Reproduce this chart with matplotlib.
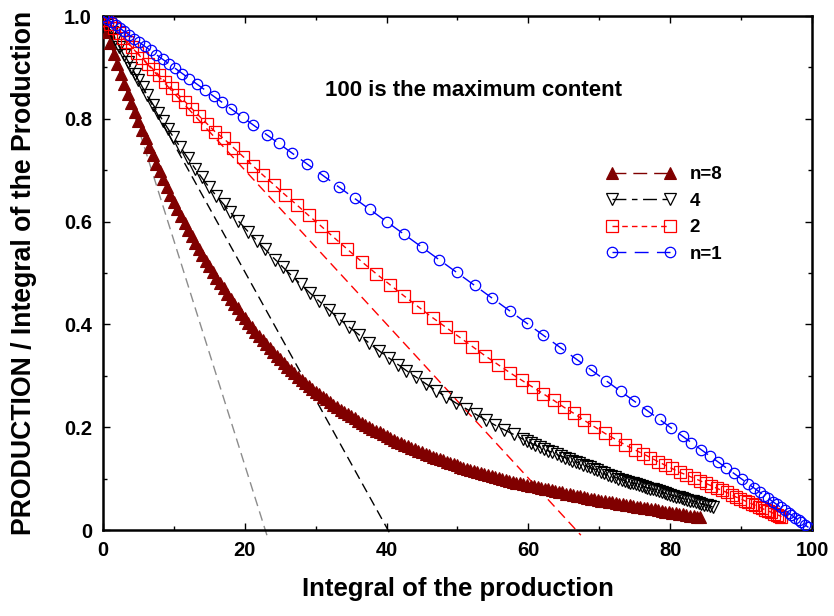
import matplotlib
matplotlib.use("Agg")
import matplotlib.pyplot as plt
from matplotlib.ticker import MultipleLocator, FixedLocator, FixedFormatter

plt.rcParams['font.family'] = ['Liberation Sans', 'DejaVu Sans']
plt.rcParams['font.weight'] = 'bold'

# n=1 (blue circles)
x_n1 = [0, 0.6, 1.2, 1.8, 2.4, 3.0, 3.7, 4.4, 5.1, 5.9, 6.7, 7.5, 8.4, 9.3, 10.2, 11.2,
        12.2, 13.3, 14.4, 15.6, 16.8, 18.1, 19.7, 21.2, 23.1, 24.8, 26.6, 28.8, 31.1, 33.3,
        35.5, 37.6, 40.0, 42.5, 45.0, 47.4, 49.9, 52.4, 54.9, 57.4, 59.8, 62.1, 64.5, 66.8,
        68.9, 71.0, 73.0, 74.9, 76.8, 78.5, 80.1, 81.8, 83.0, 84.4, 85.6, 86.8, 87.9, 89.0,
        90.1, 91.0, 91.8, 92.6, 93.3, 93.8, 94.5, 95.0, 95.6, 96.2, 96.7, 97.1, 97.6, 98.1,
        98.5, 99.0, 99.5]
y_n1 = [1.0, 0.994, 0.988, 0.982, 0.976, 0.970, 0.963, 0.956, 0.949, 0.941, 0.933, 0.925,
        0.916, 0.907, 0.898, 0.888, 0.878, 0.867, 0.856, 0.844, 0.832, 0.819, 0.803, 0.788,
        0.769, 0.752, 0.734, 0.712, 0.689, 0.667, 0.645, 0.624, 0.600, 0.575, 0.550, 0.526,
        0.501, 0.476, 0.451, 0.426, 0.402, 0.379, 0.355, 0.332, 0.311, 0.290, 0.270, 0.251,
        0.232, 0.215, 0.199, 0.182, 0.170, 0.156, 0.144, 0.132, 0.121, 0.110, 0.099, 0.090,
        0.082, 0.074, 0.067, 0.062, 0.055, 0.050, 0.044, 0.038, 0.033, 0.029, 0.024, 0.019,
        0.015, 0.010, 0.005]

# n=2 (red squares)
x_n2 = [0, 0.5, 1.0, 1.6, 2.2, 2.8, 3.4, 4.1, 4.8, 5.5, 6.3, 7.1, 7.9, 8.8, 9.7, 10.6,
        11.6, 12.6, 13.6, 14.7, 15.8, 17.0, 18.4, 19.8, 21.2, 22.6, 24.1, 25.7, 27.3, 29.0,
        30.7, 32.5, 34.4, 36.5, 38.5, 40.5, 42.5, 44.5, 46.5, 48.4, 50.3, 52.1, 53.9, 55.7,
        57.4, 59.1, 60.6, 62.1, 63.6, 65.0, 66.4, 67.8, 69.3, 70.8, 72.2, 73.6, 75.0, 76.2,
        77.2, 78.3, 79.3, 80.2, 81.4, 82.3, 83.3, 84.2, 85.0, 85.8, 86.6, 87.3, 88.0, 88.7,
        89.3, 89.9, 90.5, 91.0, 91.5, 92.0, 92.5, 93.0, 93.4, 93.8, 94.2, 94.6, 95.0, 95.4,
        95.7]
y_n2 = [1.0, 0.993, 0.985, 0.976, 0.967, 0.958, 0.950, 0.939, 0.929, 0.919, 0.907, 0.896,
        0.885, 0.872, 0.859, 0.847, 0.833, 0.819, 0.805, 0.790, 0.775, 0.762, 0.744, 0.726,
        0.708, 0.690, 0.672, 0.652, 0.633, 0.612, 0.592, 0.570, 0.547, 0.522, 0.499, 0.477,
        0.455, 0.434, 0.413, 0.394, 0.375, 0.357, 0.339, 0.322, 0.306, 0.291, 0.278, 0.265,
        0.252, 0.239, 0.227, 0.214, 0.201, 0.188, 0.177, 0.166, 0.156, 0.148, 0.141, 0.133,
        0.126, 0.120, 0.112, 0.107, 0.101, 0.096, 0.091, 0.086, 0.081, 0.077, 0.073, 0.068,
        0.064, 0.061, 0.057, 0.054, 0.051, 0.048, 0.045, 0.042, 0.039, 0.037, 0.035, 0.032,
        0.030, 0.028, 0.026]

# n=4 (black open triangles)
x_n4 = [0, 0.6, 1.2, 1.7, 2.3, 2.9, 3.5, 4.0, 4.5, 5.0, 5.6, 6.2, 7.1, 7.8, 8.5, 9.2, 9.9,
        10.9, 12.0, 13.0, 13.9, 14.9, 16.0, 17.0, 17.9, 19.1, 20.5, 21.7, 22.8, 24.3, 25.4,
        26.6, 27.9, 29.2, 30.5, 31.9, 33.3, 34.7, 36.1, 37.5, 38.9, 40.3, 41.6, 42.8, 44.2,
        45.6, 47.0, 48.4, 49.8, 51.2, 52.6, 54.0, 55.3, 56.6, 57.9, 59.2, 59.8, 60.4, 61.0,
        61.6, 62.2, 62.8, 63.4, 64.0, 64.6, 65.2, 65.7, 66.2, 66.7, 67.2, 67.7, 68.2, 68.7,
        69.2, 69.7, 70.2, 70.7, 71.2, 71.7, 72.2, 72.7, 73.2, 73.6, 74.0, 74.4, 74.8, 75.2,
        75.6, 76.0, 76.4, 76.8, 77.2, 77.6, 78.0, 78.4, 78.8, 79.2, 79.6, 80.0, 80.4, 80.8,
        81.2, 81.6, 82.0, 82.4, 82.8, 83.2, 83.6, 84.0, 84.4, 84.8, 85.2, 85.6, 86.0]
y_n4 = [0.995, 0.982, 0.968, 0.955, 0.940, 0.925, 0.911, 0.899, 0.887, 0.875, 0.861, 0.847,
        0.827, 0.811, 0.795, 0.780, 0.765, 0.745, 0.723, 0.703, 0.686, 0.668, 0.650, 0.634,
        0.619, 0.601, 0.580, 0.563, 0.547, 0.526, 0.511, 0.495, 0.478, 0.461, 0.445, 0.428,
        0.411, 0.395, 0.380, 0.364, 0.349, 0.335, 0.322, 0.310, 0.297, 0.284, 0.271, 0.259,
        0.247, 0.236, 0.225, 0.214, 0.204, 0.195, 0.186, 0.177, 0.173, 0.169, 0.165, 0.161,
        0.158, 0.154, 0.151, 0.147, 0.144, 0.141, 0.138, 0.135, 0.133, 0.130, 0.127, 0.125,
        0.122, 0.119, 0.117, 0.112, 0.110, 0.107, 0.105, 0.103, 0.100, 0.098, 0.096, 0.094,
        0.092, 0.091, 0.089, 0.087, 0.086, 0.084, 0.082, 0.080, 0.079, 0.077, 0.075, 0.074,
        0.072, 0.070, 0.068, 0.067, 0.065, 0.064, 0.062, 0.061, 0.059, 0.057, 0.056, 0.054,
        0.052, 0.051, 0.049, 0.048, 0.046, 0.045]

# n=8 (dark red filled triangles)
x_n8 = [0.0, 0.5, 1.0, 1.5, 2.0, 2.5, 3.0, 3.5, 4.0, 4.5, 5.0, 5.5, 6.0, 6.5, 7.0, 7.5,
        8.0, 8.5, 9.0, 9.5, 10.0, 10.5, 11.0, 11.5, 12.0, 12.5, 13.0, 13.5, 14.0, 14.5,
        15.0, 15.5, 16.0, 16.5, 17.0, 17.5, 18.0, 18.5, 19.0, 19.5, 20.0, 20.5, 21.0, 21.5,
        22.0, 22.5, 23.0, 23.5, 24.0, 24.5, 25.0, 25.5, 26.0, 26.5, 27.0, 27.5, 28.0, 28.5,
        29.0, 29.5, 30.0, 30.5, 31.0, 31.5, 32.0, 32.5, 33.0, 33.5, 34.0, 34.5, 35.0, 35.5,
        36.0, 36.5, 37.0, 37.5, 38.0, 38.5, 39.0, 39.5, 40.0, 40.5, 41.0, 41.5, 42.0, 42.5,
        43.0, 43.5, 44.0, 44.5, 45.0, 45.5, 46.0, 46.5, 47.0, 47.5, 48.0, 48.5, 49.0, 49.5,
        50.0, 50.3, 50.8, 51.3, 51.8, 52.3, 52.8, 53.3, 53.8, 54.3, 54.8, 55.3, 55.8, 56.3,
        56.8, 57.3, 57.8, 58.3, 58.8, 59.3, 59.8, 60.3, 60.8, 61.3, 61.8, 62.3, 62.8, 63.3,
        63.8, 64.3, 64.8, 65.3, 65.8, 66.3, 66.8, 67.3, 67.8, 68.3, 68.8, 69.3, 69.8, 70.3,
        70.8, 71.3, 71.8, 72.3, 72.8, 73.3, 73.8, 74.3, 74.8, 75.3, 75.8, 76.3, 76.8, 77.3,
        77.8, 78.3, 78.8, 79.3, 79.8, 80.3, 80.8, 81.3, 81.8, 82.3, 82.8, 83.3, 83.8, 84.2]
y_n8 = [0.990, 0.969, 0.948, 0.927, 0.907, 0.887, 0.868, 0.849, 0.831, 0.813, 0.796, 0.779,
        0.762, 0.746, 0.729, 0.713, 0.698, 0.682, 0.667, 0.652, 0.638, 0.624, 0.611, 0.597,
        0.584, 0.572, 0.559, 0.547, 0.536, 0.524, 0.513, 0.502, 0.491, 0.480, 0.470, 0.460,
        0.450, 0.440, 0.431, 0.421, 0.412, 0.403, 0.394, 0.386, 0.378, 0.370, 0.362, 0.354,
        0.347, 0.339, 0.332, 0.325, 0.318, 0.311, 0.305, 0.298, 0.292, 0.286, 0.280, 0.274,
        0.269, 0.264, 0.259, 0.254, 0.249, 0.244, 0.239, 0.234, 0.230, 0.226, 0.221, 0.217,
        0.213, 0.209, 0.205, 0.201, 0.197, 0.193, 0.190, 0.186, 0.182, 0.179, 0.175, 0.172,
        0.169, 0.166, 0.163, 0.160, 0.157, 0.154, 0.151, 0.148, 0.146, 0.143, 0.141, 0.138,
        0.136, 0.133, 0.131, 0.128, 0.126, 0.123, 0.121, 0.119, 0.117, 0.115, 0.113, 0.111,
        0.109, 0.107, 0.105, 0.103, 0.101, 0.099, 0.097, 0.096, 0.094, 0.092, 0.091, 0.089,
        0.088, 0.086, 0.085, 0.083, 0.082, 0.080, 0.079, 0.077, 0.076, 0.074, 0.073, 0.071,
        0.070, 0.068, 0.067, 0.066, 0.064, 0.063, 0.061, 0.060, 0.059, 0.057, 0.056, 0.055,
        0.054, 0.052, 0.051, 0.050, 0.049, 0.048, 0.047, 0.045, 0.044, 0.043, 0.042, 0.041,
        0.040, 0.039, 0.037, 0.036, 0.035, 0.034, 0.033, 0.032, 0.031, 0.030, 0.028, 0.027,
        0.026, 0.025]

# initial tangents: start point and end point (a bit below zero)
tan_x = [[0, 23.3], [0, 40.6], [0, 67.4]]
tan_y = [[1.0, -0.018], [1.0, -0.01], [1.0, -0.01]]
tan_colors = ["#8c8c8c", "black", "red"]

x_ticks = [0, 20, 40, 60, 80, 100]
y_ticks = [0, 0.2, 0.4, 0.6, 0.8, 1.0]
y_tick_labels = ["0", "0.2", "0.4", "0.6", "0.8", "1.0"]

fig = plt.figure(figsize=(8.34, 6.16), dpi=100)
ax = fig.add_axes([0.1235, 0.1396, 0.8501, 0.8344])

for tx, ty, c in zip(tan_x, tan_y, tan_colors):
    ax.plot(tx, ty, color=c, lw=1, dashes=(7, 4), clip_on=False, zorder=2)

ax.plot(x_n8, y_n8, color="#800000", lw=1, dashes=(10, 5), marker="^", ms=8,
        mfc="#800000", mec="#800000", mew=0.8, label="n=8", zorder=3)
ax.plot(x_n4, y_n4, color="black", lw=1, dashes=(10, 4, 4, 4), marker="v", ms=8,
        mfc="none", mec="black", mew=0.9, label="4", zorder=3)
ax.plot(x_n2, y_n2, color="red", lw=1, dashes=(4, 3), marker="s", ms=8,
        mfc="none", mec="red", mew=0.9, label="2", zorder=3)
ax.plot(x_n1, y_n1, color="blue", lw=1, dashes=(10, 6), marker="o", ms=7.5,
        mfc="none", mec="blue", mew=0.9, label="n=1", zorder=3)

ax.set_xlim(0, 100)
ax.set_ylim(0, 1.0)
ax.xaxis.set_major_locator(FixedLocator(x_ticks))
ax.xaxis.set_minor_locator(MultipleLocator(10))
ax.yaxis.set_major_locator(FixedLocator(y_ticks))
ax.yaxis.set_major_formatter(FixedFormatter(y_tick_labels))
ax.yaxis.set_minor_locator(MultipleLocator(0.1))
ax.tick_params(which="both", direction="in", top=True, right=True, width=1)
ax.tick_params(which="major", length=5, labelsize=14.5, pad=8)
ax.tick_params(which="minor", length=3)
for s in ax.spines.values():
    s.set_linewidth(1.8)

ax.set_xlabel("Integral of the production", fontsize=18.5, fontweight="bold", labelpad=12)
ax.set_ylabel("PRODUCTION / Integral of the Production", fontsize=19.2,
              fontweight="bold", labelpad=19)

ax.text(0.522, 0.856, "100 is the maximum content", transform=ax.transAxes,
        ha="center", va="center", fontsize=16, fontweight="bold")

leg = ax.legend(loc="upper left", bbox_to_anchor=(0.710, 0.708), frameon=False,
                numpoints=2, handlelength=3.7, handletextpad=0.75, labelspacing=0.5,
                borderpad=0, borderaxespad=0, prop={"size": 13.5, "weight": "bold"})

fig.savefig("out.png", dpi=100)
